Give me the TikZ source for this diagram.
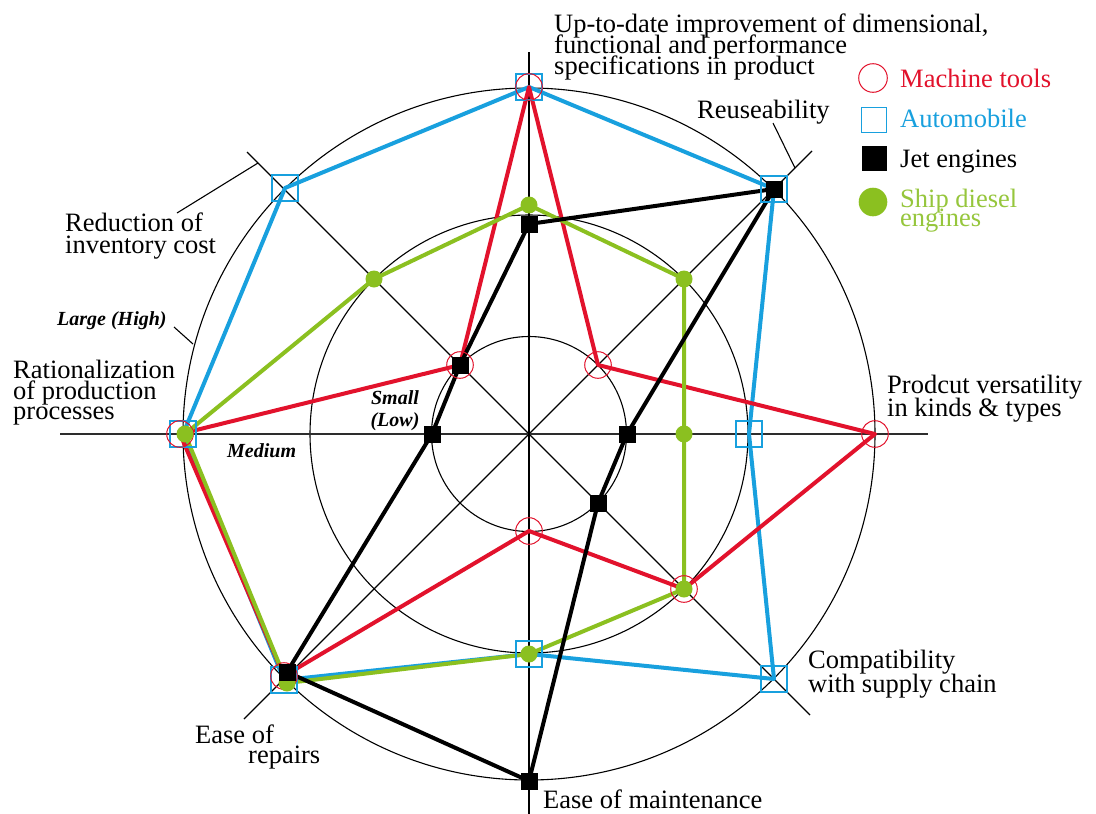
\documentclass[tikz,border=0pt]{standalone}
\usepackage{fontspec}
\setmainfont{Liberation Serif}
\definecolor{mred}{RGB}{226,18,44}
\definecolor{mblue}{RGB}{24,160,222}
\definecolor{mgreen}{RGB}{139,192,32}
\definecolor{lgreen}{RGB}{150,198,60}
\definecolor{axisgray}{RGB}{45,45,45}
\begin{document}
\begin{tikzpicture}[x=1pt,y=-1pt,
  lbl/.style={anchor=base west,inner sep=0pt,font=\fontsize{26.5}{21}\selectfont},
  lvl/.style={inner sep=0pt,font=\bfseries\itshape\fontsize{20}{20}\selectfont},
  ring/.style={draw=black,line width=1.1pt},
  thinline/.style={draw=black,line width=1.1pt},
  axisline/.style={line width=2.6pt},
  dataline/.style={line width=4pt,line join=round,line cap=round},
  redmark/.style={circle,draw=mred,line width=1pt,minimum size=26.6pt,inner sep=0pt},
  bluemark/.style={rectangle,draw=mblue,line width=1.4pt,minimum size=26pt,inner sep=0pt},
  blackmark/.style={rectangle,fill=black,minimum size=17pt,inner sep=0pt},
  greenmark/.style={circle,fill=mgreen,minimum size=17pt,inner sep=0pt}]
\useasboundingbox (0,0) rectangle (1096,814);
\fill[white] (0,0) rectangle (1096,814);
% centre, rings
\coordinate (C) at (529,434);
\draw[ring] (C) circle[radius=97.5pt];
\draw[ring] (C) circle[radius=219pt];
\draw[ring] (C) circle[radius=346pt];
% diagonals
\coordinate (dNE) at (812,151);
\coordinate (dNW) at (247,152);
\coordinate (dSE) at (810,715);
\coordinate (dSW) at (244,719);
\draw[thinline] (dNW) -- (dSE);
\draw[thinline] (dSW) -- (dNE);
% axes
\coordinate (xT) at (529,52);
\coordinate (xB) at (529,814);
\coordinate (xL) at (60,434);
\coordinate (xR) at (928,434);
\draw[axisline,draw=axisgray] (xL) -- (xR);
\draw[axisline,draw=black] (xT) -- (xB);
% leaders
\coordinate (lNWa) at (258,163); \coordinate (lNWb) at (177,213);
\coordinate (lNEa) at (795,168); \coordinate (lNEb) at (773,123);
\coordinate (lLa) at (174,327);  \coordinate (lLb) at (193,344);
\draw[thinline] (lNWa) -- (lNWb);
\draw[thinline] (lNEa) -- (lNEb);
\draw[thinline] (lLa) -- (lLb);
% data points: machine tools
\coordinate (mN) at (529,87);   \coordinate (mNE) at (598,365);
\coordinate (mE) at (875,434);  \coordinate (mSE) at (684,589);
\coordinate (mS) at (529,531);  \coordinate (mSW) at (284,676);
\coordinate (mW) at (180,434);  \coordinate (mNW) at (460,365);
% automobile
\coordinate (aN) at (529,87);   \coordinate (aNE) at (774,189);
\coordinate (aE) at (749,434);  \coordinate (aSE) at (774,679);
\coordinate (aS) at (529,654);  \coordinate (aSW) at (284,680);
\coordinate (aW) at (183,434);  \coordinate (aNW) at (285,188);
% jet engines
\coordinate (jN) at (529,224);  \coordinate (jNE) at (774,189);
\coordinate (jE) at (627,434);  \coordinate (jSE) at (598,503);
\coordinate (jS) at (529,781);  \coordinate (jSW) at (287,672);
\coordinate (jW) at (432,434);  \coordinate (jNW) at (460,365);
% ship diesel engines
\coordinate (sN) at (529,205);  \coordinate (sNE) at (684,279);
\coordinate (sE) at (684,434);  \coordinate (sSE) at (684,589);
\coordinate (sS) at (529,654);  \coordinate (sSW) at (287,683);
\coordinate (sW) at (185,434);  \coordinate (sNW) at (374,279);
% polygons
\draw[dataline,draw=mblue] (aN) -- (aNE) -- (aE) -- (aSE) -- (aS) -- (aSW) -- (aW) -- (aNW) -- cycle;
\draw[dataline,draw=mred] (mN) -- (mNE) -- (mE) -- (mSE) -- (mS) -- (mSW) -- (mW) -- (mNW) -- cycle;
\draw[dataline,draw=mgreen] (sN) -- (sNE) -- (sE) -- (sSE) -- (sS) -- (sSW) -- (sW) -- (sNW) -- cycle;
\draw[dataline,draw=black] (jN) -- (jNE) -- (jE) -- (jSE) -- (jS) -- (jSW) -- (jW) -- (jNW) -- cycle;
% markers
\foreach \p in {N,NE,E,SE,S,SW,W,NW}{
  \node[bluemark] (ka\p) at (a\p) {};
  \node[redmark] (km\p) at (m\p) {};
  \node[greenmark] (ks\p) at (s\p) {};
  \node[blackmark] (kj\p) at (j\p) {};
}
% legend
\node[redmark,minimum size=28.6pt] (legm) at (873,78) {};
\node[bluemark,minimum size=25pt] (lega) at (874,120) {};
\node[blackmark,minimum size=25pt] (legj) at (874.5,158) {};
\node[greenmark,minimum size=28.6pt] (legs) at (873,202) {};
\node[lbl,text=mred] (tm) at (900,87) {Machine tools};
\node[lbl,text=mblue] (ta) at (900,127) {Automobile};
\node[lbl,text=black] (tj) at (900,167) {Jet engines};
\node[lbl,text=lgreen] (ts1) at (900,207) {Ship diesel};
\node[lbl,text=lgreen] (ts2) at (900,226) {engines};
% axis labels
\node[lbl] (up1) at (554,32) {Up-to-date improvement of dimensional,};
\node[lbl] (up2) at (554,53) {functional and performance};
\node[lbl] (up3) at (554,74) {specifications in product};
\node[lbl] (reuse) at (697,118) {Reuseability};
\node[lbl] (prod1) at (887,393) {Prodcut versatility};
\node[lbl] (prod2) at (887,416) {in kinds \& types};
\node[lbl] (comp1) at (808,668) {Compatibility};
\node[lbl] (comp2) at (808,692) {with supply chain};
\node[lbl] (maint) at (543,808) {Ease of maintenance};
\node[lbl] (rep1) at (195,743) {Ease of};
\node[lbl] (rep2) at (248,763) {repairs};
\node[lbl] (rat1) at (13,378) {Rationalization};
\node[lbl] (rat2) at (13,399) {of production};
\node[lbl] (rat3) at (13,419) {processes};
\node[lbl] (inv1) at (65,231) {Reduction of};
\node[lbl] (inv2) at (65,253) {inventory cost};
% level labels
\node[lvl,anchor=base west] (large) at (57,325) {Large (High)};
\node[lvl,anchor=base west] (medium) at (227,457) {Medium};
\node[lvl,anchor=base] (small1) at (395,404) {Small};
\node[lvl,anchor=base] (small2) at (395,426) {(Low)};
\end{tikzpicture}
\end{document}
